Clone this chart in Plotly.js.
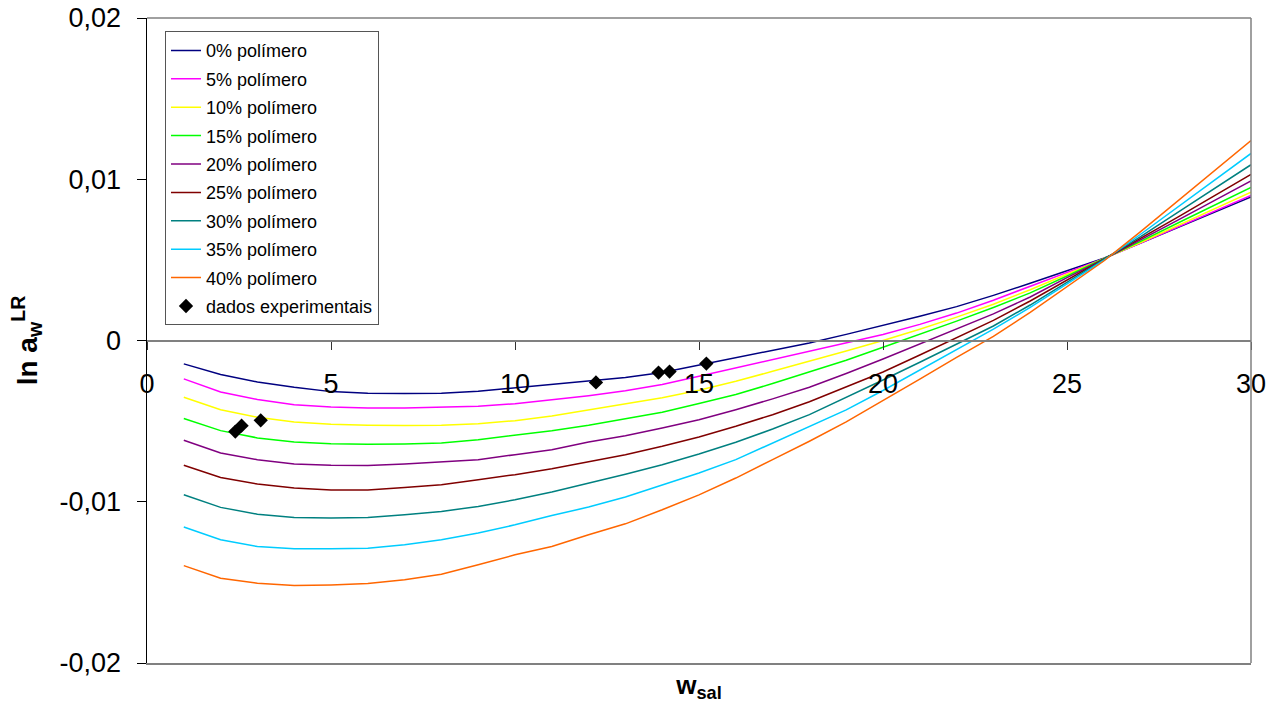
<!DOCTYPE html>
<html>
<head>
<meta charset="utf-8">
<script src="https://cdn.plot.ly/plotly-3.0.1.min.js"></script>
<style>
  html, body { margin: 0; padding: 0; background: #ffffff; }
  #chart { width: 1281px; height: 704px; }
</style>
</head>
<body>
<div id="chart"></div>
<script>
// Salt mass fraction (w_sal) at which each model curve is evaluated
const wSal = [1, 2, 3, 4, 5, 6, 7, 8, 9, 10, 11, 12, 13, 14, 15,
              16, 17, 18, 19, 20, 21, 22, 23, 24, 25, 26, 27, 28, 29, 30];

// ln a_w (LR model) for each polymer content
const lnAw0 = [-0.00145, -0.00211, -0.00257, -0.00290, -0.00317, -0.00327, -0.00329, -0.00327, -0.00315, -0.00294,
               -0.00275, -0.00255, -0.00230, -0.00198, -0.00152, -0.00105, -0.00060, -0.00015, 0.00038, 0.00092,
               0.00150, 0.00210, 0.00280, 0.00355, 0.00433, 0.00510, 0.00605, 0.00700, 0.00795, 0.00890];
const lnAw5 = [-0.00238, -0.00319, -0.00366, -0.00398, -0.00412, -0.00418, -0.00419, -0.00415, -0.00408, -0.00392,
               -0.00368, -0.00342, -0.00312, -0.00273, -0.00222, -0.00170, -0.00118, -0.00066, -0.00016, 0.00037,
               0.00100, 0.00170, 0.00250, 0.00335, 0.00420, 0.00508, 0.00604, 0.00703, 0.00802, 0.00900];
const lnAw10 = [-0.00352, -0.00429, -0.00476, -0.00505, -0.00520, -0.00526, -0.00527, -0.00525, -0.00517, -0.00497,
                -0.00468, -0.00430, -0.00392, -0.00355, -0.00309, -0.00253, -0.00191, -0.00130, -0.00065, 0.00000,
                0.00070, 0.00145, 0.00225, 0.00315, 0.00410, 0.00507, 0.00608, 0.00712, 0.00816, 0.00920];
const lnAw15 = [-0.00484, -0.00559, -0.00604, -0.00629, -0.00640, -0.00644, -0.00642, -0.00635, -0.00615, -0.00588,
                -0.00559, -0.00525, -0.00486, -0.00445, -0.00391, -0.00335, -0.00267, -0.00195, -0.00122, -0.00042,
                0.00038, 0.00120, 0.00205, 0.00295, 0.00400, 0.00505, 0.00615, 0.00727, 0.00838, 0.00950];
const lnAw20 = [-0.00619, -0.00698, -0.00739, -0.00766, -0.00774, -0.00775, -0.00766, -0.00753, -0.00739, -0.00708,
                -0.00677, -0.00630, -0.00590, -0.00542, -0.00491, -0.00429, -0.00362, -0.00290, -0.00205, -0.00115,
                -0.00020, 0.00070, 0.00165, 0.00270, 0.00390, 0.00504, 0.00623, 0.00745, 0.00867, 0.00990];
const lnAw25 = [-0.00774, -0.00849, -0.00890, -0.00915, -0.00927, -0.00927, -0.00911, -0.00894, -0.00863, -0.00832,
                -0.00795, -0.00750, -0.00708, -0.00656, -0.00598, -0.00532, -0.00460, -0.00380, -0.00290, -0.00195,
                -0.00090, 0.00020, 0.00125, 0.00245, 0.00375, 0.00502, 0.00631, 0.00764, 0.00897, 0.01030];
const lnAw30 = [-0.00957, -0.01035, -0.01077, -0.01097, -0.01101, -0.01097, -0.01081, -0.01060, -0.01029, -0.00988,
                -0.00940, -0.00885, -0.00830, -0.00770, -0.00704, -0.00631, -0.00549, -0.00460, -0.00355, -0.00245,
                -0.00135, -0.00022, 0.00090, 0.00220, 0.00360, 0.00500, 0.00644, 0.00793, 0.00942, 0.01090];
const lnAw35 = [-0.01157, -0.01236, -0.01278, -0.01292, -0.01292, -0.01288, -0.01267, -0.01236, -0.01194, -0.01143,
                -0.01085, -0.01033, -0.00970, -0.00894, -0.00822, -0.00739, -0.00636, -0.00535, -0.00430, -0.00310,
                -0.00185, -0.00055, 0.00070, 0.00205, 0.00350, 0.00497, 0.00659, 0.00826, 0.00993, 0.01160];
const lnAw40 = [-0.01396, -0.01474, -0.01505, -0.01520, -0.01516, -0.01507, -0.01484, -0.01449, -0.01391, -0.01329,
                -0.01278, -0.01205, -0.01137, -0.01050, -0.00957, -0.00853, -0.00739, -0.00625, -0.00505, -0.00375,
                -0.00240, -0.00105, 0.00025, 0.00175, 0.00335, 0.00493, 0.00675, 0.00863, 0.01052, 0.01240];

// Experimental points
const expW = [2.40, 2.57, 3.09, 12.2, 13.9, 14.2, 15.2];
const expLnAw = [-0.00565, -0.00528, -0.00495, -0.00260, -0.00199, -0.00193, -0.00143];

const seriesNames = ['0% polímero', '5% polímero', '10% polímero', '15% polímero', '20% polímero',
                     '25% polímero', '30% polímero', '35% polímero', '40% polímero'];
const seriesValues = [lnAw0, lnAw5, lnAw10, lnAw15, lnAw20, lnAw25, lnAw30, lnAw35, lnAw40];
const expName = 'dados experimentais';

// Axis ticks
const xTickVals = [0, 5, 10, 15, 20, 25, 30];
const xTickText = ['0', '5', '10', '15', '20', '25', '30'];
const yTickVals = [-0.02, -0.01, 0, 0.01, 0.02];
const yTickText = ['-0,02', '-0,01', '0', '0,01', '0,02'];

// Line colours, one per polymer content
const lineColors = ['#000080', '#FF00FF', '#FFFF00', '#00FF00', '#800080',
                    '#800000', '#008080', '#00CCFF', '#FF6600'];

const traces = seriesValues.map((vals, i) => ({
  type: 'scatter',
  mode: 'lines',
  x: wSal,
  y: vals,
  name: seriesNames[i],
  legendgroup: 'g' + i,
  line: { color: lineColors[i], width: 1.5 },
  hoverinfo: 'skip'
}));

traces.push({
  type: 'scatter',
  mode: 'markers',
  x: expW,
  y: expLnAw,
  xaxis: 'x2',
  name: expName,
  legendgroup: 'exp',
  marker: { symbol: 'diamond', size: 11, color: '#000000' },
  hoverinfo: 'skip'
});

const layout = {
  width: 1281,
  height: 704,
  margin: { l: 147, r: 30, t: 18, b: 41 },
  paper_bgcolor: '#ffffff',
  plot_bgcolor: '#ffffff',
  font: { family: 'Liberation Sans, Arial, sans-serif', color: '#000000' },
  showlegend: true,
  legend: {
    x: 0.0163, y: 0.9795, xanchor: 'left', yanchor: 'top',
    bgcolor: '#ffffff', bordercolor: '#555555', borderwidth: 1,
    font: { size: 18, color: '#000000' },
    tracegroupgap: 2,
    itemwidth: 30
  },
  xaxis: {
    range: [0, 30],
    showline: true, linecolor: '#808080', linewidth: 1.5,
    ticks: '', showticklabels: false,
    showgrid: false, zeroline: false, fixedrange: true,
    title: { text: '<b>w<sub>sal</sub></b>', font: { size: 26 }, standoff: 12 }
  },
  xaxis2: {
    overlaying: 'x', anchor: 'free', position: 0.5,
    range: [0, 30],
    tickmode: 'array', tickvals: xTickVals, ticktext: xTickText,
    ticks: 'outside', ticklen: 8, tickcolor: '#333333', tickwidth: 1,
    showline: true, linecolor: '#808080', linewidth: 2,
    showgrid: false, zeroline: false, fixedrange: true,
    tickfont: { size: 27 },
    ticklabelstandoff: 11
  },
  yaxis: {
    range: [-0.02, 0.02],
    tickmode: 'array', tickvals: yTickVals, ticktext: yTickText,
    ticks: 'outside', ticklen: 9, tickcolor: '#000000', tickwidth: 1,
    showline: true, linecolor: '#000000', linewidth: 1.5,
    showgrid: false, zeroline: false, fixedrange: true,
    tickfont: { size: 27 },
    ticklabelstandoff: 10,
    title: { text: '<b>ln a<sub>w</sub><sup>LR</sup></b>', font: { size: 28 }, standoff: 14 }
  },
  shapes: [
    { type: 'line', xref: 'paper', yref: 'paper', x0: 0, x1: 1, y0: 1, y1: 1,
      line: { color: '#808080', width: 1.5 } },
    { type: 'line', xref: 'paper', yref: 'paper', x0: 1, x1: 1, y0: 0, y1: 1,
      line: { color: '#808080', width: 1.5 } }
  ]
};

Plotly.newPlot('chart', traces, layout, { displayModeBar: false, staticPlot: true });
</script>
</body>
</html>
